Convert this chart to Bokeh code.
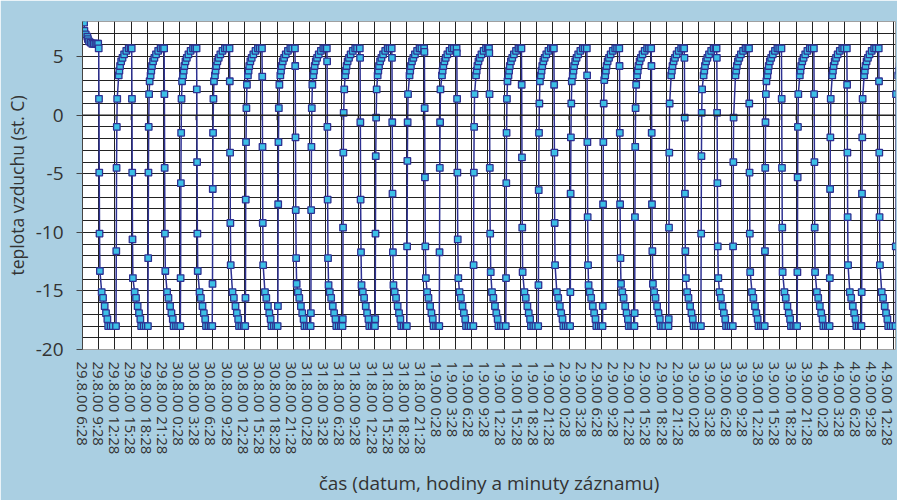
from bokeh.plotting import figure
from bokeh.models import (FixedTicker, SingleIntervalTicker, Span, Range1d, ColumnDataSource,
                          LinearAxis)
from bokeh.embed import file_html
from bokeh.resources import INLINE

# ---- x-axis categories (every 3 hours starting 29.8.00 6:28) ----
TICK_LABELS = [
    "29.8.00 6:28", "29.8.00 9:28", "29.8.00 12:28", "29.8.00 15:28", "29.8.00 18:28", "29.8.00 21:28",
    "30.8.00 0:28", "30.8.00 3:28", "30.8.00 6:28", "30.8.00 9:28", "30.8.00 12:28", "30.8.00 15:28",
    "30.8.00 18:28", "30.8.00 21:28",
    "31.8.00 0:28", "31.8.00 3:28", "31.8.00 6:28", "31.8.00 9:28", "31.8.00 12:28", "31.8.00 15:28",
    "31.8.00 18:28", "31.8.00 21:28",
    "1.9.00 0:28", "1.9.00 3:28", "1.9.00 6:28", "1.9.00 9:28", "1.9.00 12:28", "1.9.00 15:28",
    "1.9.00 18:28", "1.9.00 21:28",
    "2.9.00 0:28", "2.9.00 3:28", "2.9.00 6:28", "2.9.00 9:28", "2.9.00 12:28", "2.9.00 15:28",
    "2.9.00 18:28", "2.9.00 21:28",
    "3.9.00 0:28", "3.9.00 3:28", "3.9.00 6:28", "3.9.00 9:28", "3.9.00 12:28", "3.9.00 15:28",
    "3.9.00 18:28", "3.9.00 21:28",
    "4.9.00 0:28", "4.9.00 3:28", "4.9.00 6:28", "4.9.00 9:28", "4.9.00 12:28",
]
TICK_HOURS = list(range(0, 151, 3))
Y_TICKS = [-20, -15, -10, -5, 0, 5]
Y_LABELS = ["-20", "-15", "-10", "-5", "0", "5"]

# ---- measured temperature (hours since 29.8.00 6:28, deg C) ----
START_T = [0.0, 0.3, 0.35, 0.6, 0.9, 1.0, 1.2, 1.5, 1.8, 2.1, 2.4, 2.7, 2.9]
START_V = [8.9, 7.9, 7.2, 6.9, 6.7, 6.5, 6.3, 6.2, 6.1, 6.1, 6.1, 6.1, 6.1]

# cooling steps: time of the drop and the readings during the drop
DESC_T = [3.0, 9.1, 15.1, 21.1, 27.2, 33.2, 39.3, 45.2, 51.3, 57.2, 63.2, 69.2, 75.2,
          81.2, 87.2, 93.3, 99.3, 105.2, 111.3, 117.3, 123.3, 129.3, 135.3, 141.4, 147.3]
DESC_MID = [
    [1.4, -4.9, -10.1, -13.3],
    [1.4, -4.9, -10.6, -13.9],
    [1.8, -4.5, -10.1, -13.3],
    [2.2, -4.0, -10.1, -13.3],
    [2.9, -3.2, -9.2, -12.8],
    [3.3, -2.7, -9.2, -12.8],
    [4.2, -1.9, -8.1, -12.2, -14.4],
    [4.6, -1.0, -7.2, -12.2, -14.5],
    [4.9, -0.6, -7.2, -11.7, -14.5],
    [4.9, -0.6, -6.7, -11.7, -14.5],
    [5.4, 0.6, -5.3, -11.2, -13.9],
    [5.3, 1.4, -4.9, -10.6, -13.9],
    [5.3, 1.8, -4.5, -10.1, -13.4],
    [2.6, -3.6, -9.6, -13.4],
    [2.6, -3.2, -9.2, -12.8],
    [3.4, -2.3, -8.7, -12.8, -14.5],
    [4.2, -1.5, -7.6, -12.2, -14.4],
    [4.2, -1.5, -7.6, -11.6, -14.4],
    [4.9, -0.2, -6.7, -11.6, -13.9],
    [4.9, 0.2, -5.8, -11.2, -13.9],
    [1.0, -4.9, -10.1, -13.4],
    [1.4, -4.5, -9.6, -13.4],
    [1.8, -4.0, -9.6, -13.4],
    [2.6, -3.2, -8.7, -12.8],
    [2.9, -3.2, -8.7, -12.8],
]
# warming steps
ASC_T = [6.2, 12.1, 18.1, 24.0, 30.1, 36.1, 42.2, 48.1, 54.1, 60.0, 66.0, 72.3, 78.3,
         84.3, 90.2, 96.2, 102.1, 108.4, 114.4, 120.3, 126.2, 132.2, 138.2, 144.1, 150.4]
ASC_MID = [
    [-11.6, -4.5, -1.0, 1.4],
    [-12.2, -4.9, -1.0, 1.8, 2.9],
    [-13.9, -5.8, -1.5, 1.4, 2.9],
    [-14.4, -6.3, -1.5, 1.4, 2.9],
    [-15.6, -7.2, -2.3, 0.6, 2.6],
    [-16.3, -7.6, -2.3, 0.6, 2.6],
    [-16.9, -8.1, -2.7, 0.6, 2.6],
    [-17.4, -9.6, -3.2, 0.2, 2.2],
    [-17.4, -10.1, -3.5, -0.2, 2.2],
    [-11.2, -3.9, -0.6, 1.8],
    [-11.7, -4.5, -0.6, 2.2],
    [-12.8, -4.9, -1.0, 1.8],
    [-13.9, -5.8, -1.5, 1.4, 2.9],
    [-14.5, -6.4, -1.5, 1.0, 2.9],
    [-15.1, -6.7, -1.9, 1.0, 2.9],
    [-16.3, -7.6, -2.3, 1.0, 3.0],
    [-16.9, -8.7, -2.7, 0.6, 2.6],
    [-17.4, -9.6, -3.2, 1.0],
    [-10.1, -3.5, 0.2, 2.2],
    [-11.2, -4.0, -0.2],
    [-11.6, -4.5, -0.6, 1.8, 2.9],
    [-13.4, -5.3, -1.0, 1.8],
    [-13.9, -6.3, -1.9, 1.4],
    [-15.1, -6.7, -1.9, 1.4],
    [-11.2, 1.8],
]
MID_DT = [0.05, 0.1, 0.15, 0.22, 0.32]
# slow approach to the set-points after each step
BOTTOM_DT = [0.55, 0.8, 1.1, 1.35, 1.6, 1.75, 2.2, 2.6]
BOTTOM_V = [-15.1, -15.6, -16.3, -16.9, -17.4, -18.0, -18.0, -18.0]
TOP_DT = [0.5, 0.62, 0.75, 0.95, 1.2, 1.5, 1.9, 2.35, 2.7]
TOP_V = [3.4, 3.8, 4.2, 4.6, 4.9, 5.2, 5.5, 5.7, 5.7]

t = list(START_T)
v = list(START_V)
for i in range(len(DESC_T)):
    td = DESC_T[i]
    t.append(td); v.append(5.7)
    for j, val in enumerate(DESC_MID[i]):
        t.append(td + MID_DT[j]); v.append(val)
    for dt, val in zip(BOTTOM_DT, BOTTOM_V):
        t.append(td + dt); v.append(val)
    ta = ASC_T[i]
    t.append(ta); v.append(-18.0)
    for j, val in enumerate(ASC_MID[i]):
        t.append(ta + MID_DT[j]); v.append(val)
    for dt, val in zip(TOP_DT, TOP_V):
        t.append(ta + dt); v.append(val)

src = ColumnDataSource(data=dict(t=t, v=v))

BG = "#aacfe2"
TXT = "#333333"
FONT = "Open Sans"
X0, X1, Y0, Y1 = 0, 150.4, -20, 8

p = figure(width=897, height=500, output_backend="svg", toolbar_location=None,
           frame_width=813, frame_height=328,
           min_border_left=82, min_border_right=2, min_border_top=21, min_border_bottom=151,
           x_range=Range1d(X0, X1), y_range=Range1d(Y0, Y1))
p.styles = {"position": "absolute", "left": "0px", "top": "0px"}
p.background_fill_color = "white"
p.border_fill_color = BG
p.outline_line_color = "#a0a0a0"
p.outline_line_width = 1

# the default x axis is hidden; the category labels use a slightly tighter spacing
p.xaxis.visible = False
p.extra_x_ranges = {"labels": Range1d(X0, 151.36)}
xax = LinearAxis(x_range_name="labels", ticker=FixedTicker(ticks=TICK_HOURS))
xax.major_label_overrides = {h: lab for h, lab in zip(TICK_HOURS, TICK_LABELS)}
xax.major_label_orientation = "vertical"
xax.axis_line_color = None
xax.major_tick_line_color = None
xax.minor_tick_line_color = None
xax.major_label_standoff = 6
xax.major_label_text_font = FONT
xax.major_label_text_font_size = "15px"
xax.major_label_text_color = TXT
xax.axis_label = "čas (datum, hodiny a minuty záznamu)"
xax.axis_label_text_font = FONT
xax.axis_label_text_font_size = "19px"
xax.axis_label_text_font_style = "normal"
xax.axis_label_text_color = TXT
xax.axis_label_standoff = 13
p.add_layout(xax, "below")

p.yaxis.ticker = SingleIntervalTicker(interval=5, num_minor_ticks=5)
p.yaxis.major_label_overrides = {tk: lab for tk, lab in zip(Y_TICKS, Y_LABELS)}
p.yaxis.axis_line_color = "#444444"
p.yaxis.major_tick_line_color = "#444444"
p.yaxis.major_tick_out = 6
p.yaxis.major_tick_in = 0
p.yaxis.minor_tick_line_color = None
p.yaxis.major_label_standoff = 13
p.yaxis.major_label_text_font = FONT
p.yaxis.major_label_text_font_size = "19px"
p.yaxis.major_label_text_color = TXT
p.yaxis.axis_label = "teplota vzduchu (st. C)"
p.yaxis.axis_label_text_font = FONT
p.yaxis.axis_label_text_font_size = "17.5px"
p.yaxis.axis_label_text_font_style = "normal"
p.yaxis.axis_label_text_color = TXT
p.yaxis.axis_label_standoff = 4

# grids
p.xgrid.ticker = FixedTicker(ticks=TICK_HOURS)
p.xgrid.grid_line_color = "#222222"
p.xgrid.grid_line_width = 1
p.ygrid.grid_line_color = "#222222"
p.ygrid.minor_grid_line_color = "#222222"
p.ygrid.grid_line_width = 1
p.ygrid.minor_grid_line_width = 1

# category axis crossing at 0 with its tick marks
p.add_layout(Span(location=0, dimension="width", line_color="#222222", line_width=1.5))
p.segment(x0=TICK_HOURS, y0=[0] * len(TICK_HOURS), x1=TICK_HOURS, y1=[-0.42] * len(TICK_HOURS),
          line_color="#222222", line_width=1)

# series
p.line("t", "v", source=src, line_color="#2e3192", line_width=1.5)
p.scatter("t", "v", source=src, marker="square", size=6.5, fill_color="#3cc0e6",
          line_color="#2e3192", line_width=1.3)

open("out.html", "w").write(file_html(p, INLINE))
